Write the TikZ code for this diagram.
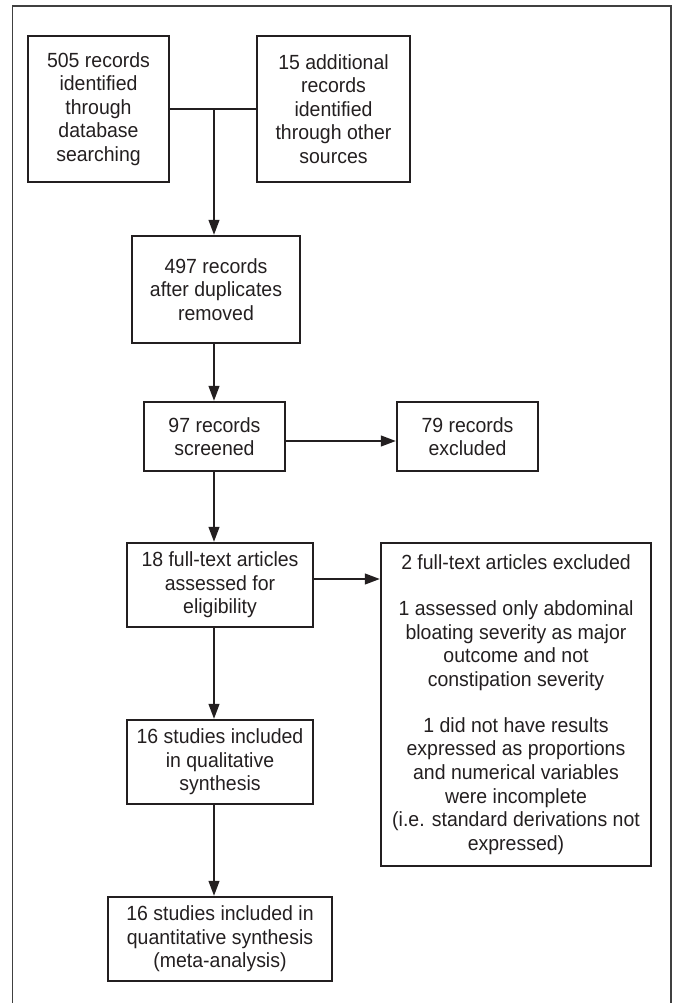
\documentclass[tikz,border=0pt]{standalone}
\usepackage{fontspec}
\setmainfont[FakeStretch=0.95]{Liberation Sans}
\usetikzlibrary{arrows.meta}
\definecolor{ink}{HTML}{231F20}
\begin{document}
\begin{tikzpicture}[x=1pt,y=-1pt,
  box/.style={draw=ink,line width=2.5pt,rectangle,inner sep=0pt,align=center,
    font=\fontsize{20.5}{23.6}\selectfont,text=ink},
  conn/.style={draw=ink,line width=1.3pt},
  arr/.style={conn,-{Triangle[length=15pt,width=11pt]}}]
\useasboundingbox (0,0) rectangle (676,1003);
\draw[black!75,line width=1.4pt] (12.5,1010) -- (12.5,6) -- (671,6) -- (671,1010);
\node[box,minimum width=141,minimum height=146] (b1) at (98.5,109) {505 records\\identified\\through\\database\\searching};
\node[box,minimum width=153,minimum height=146] (b2) at (333.5,109) {15 additional\\records\\identified\\through other\\sources};
\node[box,minimum width=168,minimum height=107] (b3) at (216,289.5) {497 records\\after duplicates\\removed};
\node[box,minimum width=141,minimum height=69] (b4) at (214.5,436.5) {97 records\\screened};
\node[box,minimum width=141,minimum height=69] (b5) at (467.5,436.5) {79 records\\excluded};
\node[box,minimum width=186,minimum height=84] (b6) at (220,585) {18 full-text articles\\assessed for\\eligibility};
\node[box,minimum width=270,minimum height=323] (b7) at (516,704.5) {2 full-text articles excluded\\[22.5pt]1 assessed only abdominal\\bloating severity as major\\outcome and not\\constipation severity\\[22.5pt]1 did not have results\\expressed as proportions\\and numerical variables\\were incomplete\\(i.e. standard derivations not\\expressed)};
\node[box,minimum width=186,minimum height=84] (b8) at (220,762) {16 studies included\\in qualitative\\synthesis};
\node[box,minimum width=224,minimum height=84] (b9) at (220,939) {16 studies included in\\quantitative synthesis\\(meta-analysis)};
\coordinate (sp) at (214,0);
\coordinate (j) at (214,109);
\draw[conn] (b1.east) -- (b2.west);
\draw[arr] (j) -- (b3.north -| j);
\draw[arr] (b3.south -| sp) -- (b4.north -| sp);
\draw[arr] (b4.east |- 0,441) -- (b5.west |- 0,441);
\draw[arr] (b4.south -| sp) -- (b6.north -| sp);
\draw[arr] (b6.east |- 0,579) -- (b7.west |- 0,579);
\draw[arr] (b6.south -| sp) -- (b8.north -| sp);
\draw[arr] (b8.south -| sp) -- (b9.north -| sp);
\end{tikzpicture}
\end{document}
